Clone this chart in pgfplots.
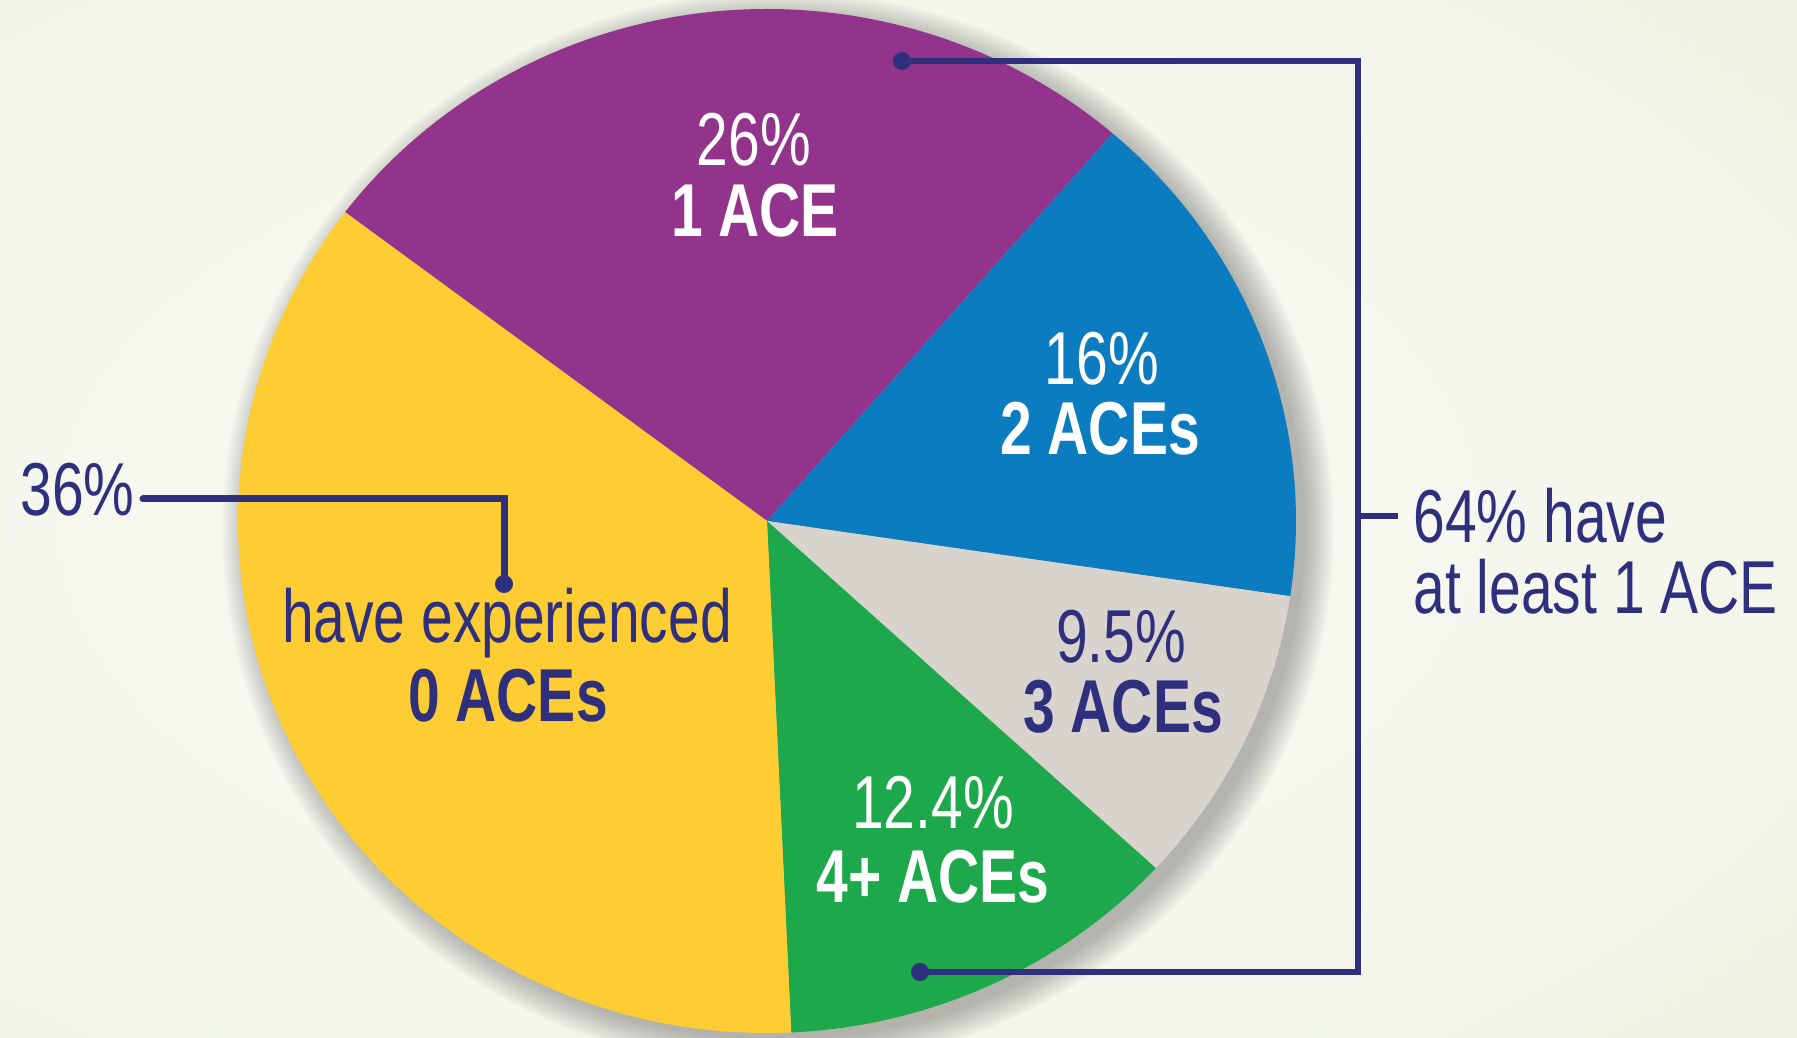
\documentclass[border=0pt]{standalone}
\usepackage{pgfplots}
\pgfplotsset{compat=1.18}
\usepackage{pgfplotstable}
\usepackage{fontspec}
\setmainfont{Liberation Sans}[FakeStretch=0.76]

\definecolor{acePurple}{RGB}{146,52,139}
\definecolor{aceBlue}{RGB}{12,124,192}
\definecolor{aceGray}{RGB}{217,211,206}
\definecolor{aceGreen}{RGB}{29,168,75}
\definecolor{aceYellow}{RGB}{254,205,51}
\definecolor{aceNavy}{RGB}{46,47,125}
\definecolor{bgA}{RGB}{249,250,245}
\definecolor{bgB}{RGB}{244,246,235}
\definecolor{bgC}{RGB}{233,240,220}
\definecolor{bgD}{RGB}{222,233,202}

\pgfdeclareradialshading{bgshade}{\pgfpoint{0bp}{0bp}}{color(0bp)=(bgA); color(24bp)=(bgB); color(37bp)=(bgC); color(54bp)=(bgD); color(80bp)=(bgD)}

% share of respondents by number of ACEs
\pgfplotstableread{
group   pct
1ACE    26
2ACEs   16
3ACEs   9.5
4+ACEs  12.4
0ACEs   36
}\acedata
\pgfplotstablegetelem{0}{pct}\of\acedata \let\pA\pgfplotsretval%
\pgfplotstablegetelem{1}{pct}\of\acedata \let\pB\pgfplotsretval%
\pgfplotstablegetelem{2}{pct}\of\acedata \let\pC\pgfplotsretval%
\pgfplotstablegetelem{3}{pct}\of\acedata \let\pD\pgfplotsretval%
\pgfplotstablegetelem{4}{pct}\of\acedata \let\pE\pgfplotsretval%
\pgfmathsetmacro\tot{\pA+\pB+\pC+\pD+\pE}%
\def\cx{767}\def\cy{516}\def\rx{529}\def\ry{512}%
\pgfmathsetmacro\aS{142.9}%
\pgfmathsetmacro\aA{\aS-360*\pA/\tot}%
\pgfmathsetmacro\aB{\aA-360*\pB/\tot}%
\pgfmathsetmacro\aC{\aB-360*\pC/\tot}%
\pgfmathsetmacro\aD{\aC-360*\pD/\tot}%
\pgfmathsetmacro\aE{\aD-360*\pE/\tot}%
\newcommand\slice[3]{\fill[#3] (axis cs:\cx,\cy) -- (axis cs:{\cx+\rx*cos(#1)},{\cy+\ry*sin(#1)}) arc[start angle=#1, end angle=#2, x radius={\rx*1pt}, y radius={\ry*1pt}] -- cycle;}
\newcommand\lbl{\fontsize{75}{80}\selectfont}

\begin{document}%
\begin{tikzpicture}
\begin{axis}[scale only axis, width=1797pt, height=1037pt,
  xmin=0, xmax=1797, ymin=0, ymax=1037, hide axis, clip=true,
  every node/.append style={inner sep=0pt}]
% background
\fill[shading=bgshade] (axis cs:-290,-80) rectangle (axis cs:1824,1117);
% soft shadow
\pgfplotsinvokeforeach{0,...,13}{
  \fill[black!70, opacity=0.03] (axis cs:{\cx+11},{\cy-9}) ellipse [x radius={(\rx-2+2.2*#1)*1pt}, y radius={(\ry-2+2.2*#1)*1pt}];
}
% slices
\slice{\aS}{\aA}{acePurple}
\slice{\aA}{\aB}{aceBlue}
\slice{\aB}{\aC}{aceGray}
\slice{\aC}{\aD}{aceGreen}
\slice{\aD}{\aE}{aceYellow}
% labels inside slices
\node[anchor=base, text=white, font=\lbl] at (axis cs:754,871) {26\%};
\node[anchor=base, text=white, font=\lbl\bfseries] at (axis cs:755,800) {1 ACE};
\node[anchor=base, text=white, font=\lbl] at (axis cs:1102,652) {16\%};
\node[anchor=base, text=white, font=\lbl\bfseries] at (axis cs:1100,582) {2 ACEs};
\node[anchor=base, text=aceNavy, font=\lbl] at (axis cs:1121,374) {9.5\%};
\node[anchor=base, text=aceNavy, font=\lbl\bfseries] at (axis cs:1123,304) {3 ACEs};
\node[anchor=base, text=white, font=\lbl] at (axis cs:933,208) {12.4\%};
\node[anchor=base, text=white, font=\lbl\bfseries] at (axis cs:933,135) {4+ ACEs};
\node[anchor=base, text=aceNavy, font=\lbl] at (axis cs:507,394) {have experienced};
\node[anchor=base, text=aceNavy, font=\lbl\bfseries] at (axis cs:508,315) {0 ACEs};
% callouts
\draw[aceNavy, line width=7pt, line cap=round] (axis cs:143,538) -- (axis cs:504,538) -- (axis cs:504,453);
\fill[aceNavy] (axis cs:504,453) circle[radius=9pt];
\node[anchor=base west, text=aceNavy, font=\lbl] at (axis cs:17,521) {36\%};
\draw[aceNavy, line width=6pt] (axis cs:902,976) -- (axis cs:1358,976) -- (axis cs:1358,65) -- (axis cs:920,65);
\draw[aceNavy, line width=6pt] (axis cs:1358,521) -- (axis cs:1398,521);
\fill[aceNavy] (axis cs:902,976) circle[radius=9pt];
\fill[aceNavy] (axis cs:920,65) circle[radius=9pt];
\node[anchor=base west, text=aceNavy, font=\lbl] at (axis cs:1410,494) {64\% have};
\node[anchor=base west, text=aceNavy, font=\lbl] at (axis cs:1410,423) {at least 1 ACE};
\end{axis}
\pgfresetboundingbox
\useasboundingbox (current axis.south west) rectangle (current axis.north east);
\end{tikzpicture}%
\end{document}
